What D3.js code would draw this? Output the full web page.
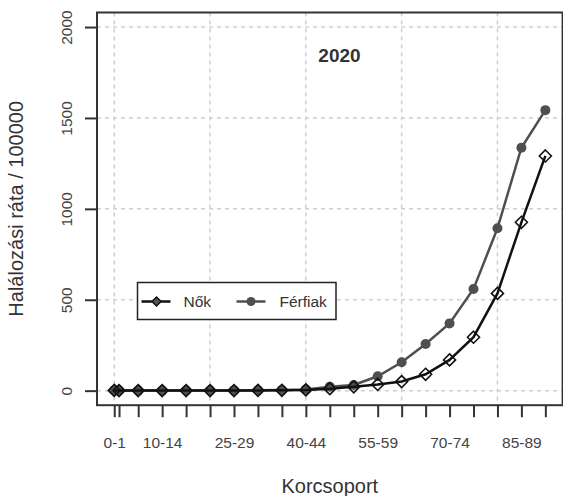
<!DOCTYPE html>
<html>
<head>
<meta charset="utf-8">
<script src="https://cdn.jsdelivr.net/npm/d3@7"></script>
<style>
  body { margin: 0; background: #fff; }
  svg { display: block; font-family: "Liberation Sans", Arial, sans-serif; }
</style>
</head>
<body>
<svg id="chart"></svg>
<script>
var svg_width = 563;
var svg_height = 496;

// DATA
var ageStart = [0, 1, 5, 10, 15, 20, 25, 30, 35, 40, 45, 50, 55, 60, 65, 70, 75, 80, 85, 90];
var ageGroups = ["0-1", "1-4", "5-9", "10-14", "15-19", "20-24", "25-29", "30-34", "35-39", "40-44",
                 "45-49", "50-54", "55-59", "60-64", "65-69", "70-74", "75-79", "80-84", "85-89", "90+"];
var nokValues = [1.5, 0.3, 0.2, 0.2, 0.3, 0.5, 0.8, 1.2, 2, 4, 11, 21, 34, 50, 90, 169, 294, 535, 926, 1291];
var ferfiakValues = [2, 0.5, 0.3, 0.3, 0.5, 1, 1.5, 2.5, 4, 7, 22, 31, 79, 156, 257, 370, 559, 893, 1336, 1543];
var seriesNames = ["Nők", "Férfiak"];
var yTicks = [0, 500, 1000, 1500, 2000];
var xGrid = [0, 20, 40, 60, 80];
var title = "2020";

// SCALES
var xScale = d3.scaleLinear()
               .domain([-3.6, 93.6])
               .range([97, 562.6]);

var yScale = d3.scaleLinear()
               .domain([-80, 2080])
               .range([405.2, 12.5]);

var svg = d3.select("#chart")
    .attr("width", svg_width)
    .attr("height", svg_height);

// GRID
svg.append("g")
    .selectAll("line")
    .data(xGrid)
    .enter()
    .append("line")
      .attr("x1", function(d) { return xScale(d); })
      .attr("x2", function(d) { return xScale(d); })
      .attr("y1", yScale(2080))
      .attr("y2", yScale(-80))
      .attr("stroke", "#cfcfcf")
      .attr("stroke-width", 1.5)
      .attr("stroke-dasharray", "4,4");

svg.append("g")
    .selectAll("line")
    .data(yTicks)
    .enter()
    .append("line")
      .attr("x1", xScale(-3.6))
      .attr("x2", xScale(93.6))
      .attr("y1", function(d) { return yScale(d); })
      .attr("y2", function(d) { return yScale(d); })
      .attr("stroke", "#cfcfcf")
      .attr("stroke-width", 1.5)
      .attr("stroke-dasharray", "4,4");

// LINES & POINTS
var rows = ageStart.map(function(a, i) {
  return { age: a, nok: nokValues[i], ferfiak: ferfiakValues[i] };
});

var ferfiakColor = "#4f4f4f";
var nokColor = "#111111";

function lineFor(key) {
  return d3.line()
           .x(function(d) { return xScale(d.age); })
           .y(function(d) { return yScale(d[key]); });
}

svg.append("path")
    .datum(rows)
    .attr("d", lineFor("ferfiak"))
    .attr("fill", "none")
    .attr("stroke", ferfiakColor)
    .attr("stroke-width", 2.5);

svg.append("g")
    .selectAll("circle")
    .data(rows)
    .enter()
    .append("circle")
      .attr("cx", function(d) { return xScale(d.age); })
      .attr("cy", function(d) { return yScale(d.ferfiak); })
      .attr("r", 5)
      .attr("fill", ferfiakColor);

svg.append("path")
    .datum(rows)
    .attr("d", lineFor("nok"))
    .attr("fill", "none")
    .attr("stroke", nokColor)
    .attr("stroke-width", 2.5);

var diamond = "M0,-6L6,0L0,6L-6,0Z";
svg.append("g")
    .selectAll("path")
    .data(rows)
    .enter()
    .append("path")
      .attr("transform", function(d) {
        return "translate(" + xScale(d.age) + "," + yScale(d.nok) + ")";
      })
      .attr("d", diamond)
      .attr("fill", "none")
      .attr("stroke", nokColor)
      .attr("stroke-width", 1.6);

// BOX
svg.append("rect")
    .attr("x", xScale(-3.6))
    .attr("y", yScale(2080))
    .attr("width", xScale(93.6) - xScale(-3.6))
    .attr("height", yScale(-80) - yScale(2080))
    .attr("fill", "none")
    .attr("stroke", "#333")
    .attr("stroke-width", 2);

// AXES
var xAxis = d3.axisBottom(xScale)
              .tickValues(ageStart)
              .tickSize(12)
              .tickFormat(function(d, i) { return i % 3 === 0 ? ageGroups[i] : ""; });

var gx = svg.append("g")
    .attr("transform", "translate(0," + yScale(-80) + ")")
    .call(xAxis);
gx.select(".domain").remove();
gx.selectAll("line").attr("stroke", "#333").attr("stroke-width", 2);
gx.selectAll("text")
    .attr("y", 43)
    .attr("dy", 0)
    .attr("fill", "#444")
    .style("font-size", "15.5px")
    .style("font-family", "Liberation Sans, Arial, sans-serif");

var yAxis = d3.axisLeft(yScale)
              .tickValues(yTicks)
              .tickFormat(d3.format("d"))
              .tickSize(12);

var gy = svg.append("g")
    .attr("transform", "translate(" + xScale(-3.6) + ",0)")
    .call(yAxis);
gy.select(".domain").remove();
gy.selectAll("line").attr("stroke", "#333").attr("stroke-width", 2);
gy.selectAll("text")
    .attr("transform", "rotate(-90)")
    .attr("x", 0)
    .attr("y", -25)
    .attr("dy", 0)
    .attr("text-anchor", "middle")
    .attr("fill", "#444")
    .style("font-size", "15.5px")
    .style("font-family", "Liberation Sans, Arial, sans-serif");

// AXES LABELS & TITLE
svg.append("text")
    .attr("x", (xScale(-3.6) + xScale(93.6)) / 2)
    .attr("y", 493)
    .attr("text-anchor", "middle")
    .attr("fill", "#333")
    .style("font-size", "20px")
    .text("Korcsoport");

svg.append("text")
    .attr("transform", "rotate(-90)")
    .attr("x", -(yScale(-80) + yScale(2080)) / 2)
    .attr("y", 23)
    .attr("text-anchor", "middle")
    .attr("fill", "#333")
    .style("font-size", "20px")
    .text("Halálozási ráta / 100000");

svg.append("text")
    .attr("x", 339.5)
    .attr("y", 61.5)
    .attr("text-anchor", "middle")
    .attr("fill", "#333")
    .style("font-size", "19px")
    .style("font-weight", "bold")
    .text(title);

// LEGEND
var legend = svg.append("g").attr("transform", "translate(137.5,282.5)");
legend.append("rect")
    .attr("width", 198.5)
    .attr("height", 37)
    .attr("fill", "#fff")
    .attr("stroke", "#222")
    .attr("stroke-width", 1.5);

var legendX = [4, 99];
var legendItems = legend.selectAll("g.item")
    .data(seriesNames)
    .enter()
    .append("g")
      .attr("class", "item")
      .attr("transform", function(d, i) { return "translate(" + legendX[i] + ",19)"; });

legendItems.append("line")
    .attr("x1", 0)
    .attr("x2", 29)
    .attr("stroke", function(d, i) { return i === 0 ? nokColor : ferfiakColor; })
    .attr("stroke-width", 2.5);

legendItems.each(function(d, i) {
  var g = d3.select(this);
  if (i === 0) {
    g.append("path")
        .attr("transform", "translate(15,0)")
        .attr("d", "M0,-4.5L4.5,0L0,4.5L-4.5,0Z")
        .attr("fill", "#555")
        .attr("stroke", nokColor)
        .attr("stroke-width", 1.5);
  } else {
    g.append("circle")
        .attr("cx", 14.5)
        .attr("r", 4.5)
        .attr("fill", ferfiakColor);
  }
});

legendItems.append("text")
    .attr("x", function(d, i) { return i === 0 ? 42 : 43; })
    .attr("y", 5.5)
    .attr("fill", "#333")
    .style("font-size", "15.5px")
    .text(function(d) { return d; });
</script>
</body>
</html>
